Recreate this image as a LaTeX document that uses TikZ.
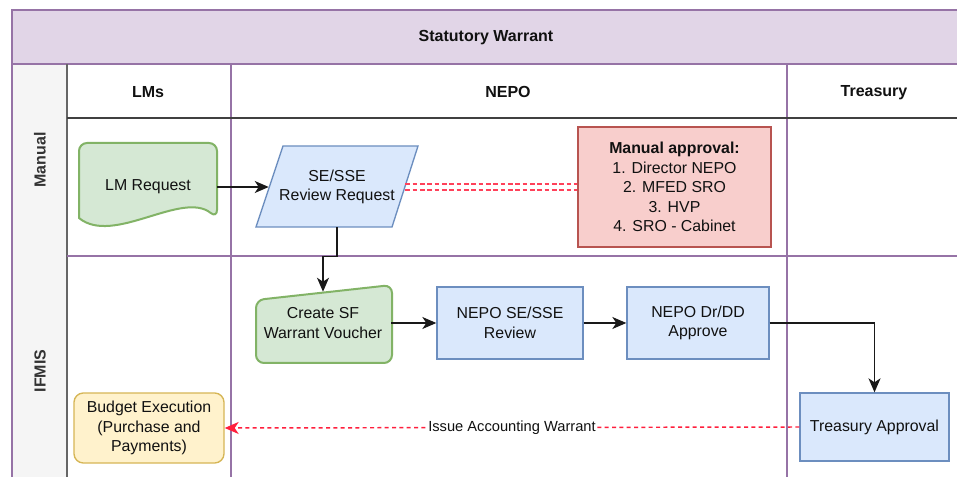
\documentclass[tikz,border=0pt]{standalone}
\usepackage{fontspec}
\setmainfont{Liberation Sans}
\usetikzlibrary{arrows.meta,calc}
\definecolor{hdrfill}{HTML}{E1D5E7}
\definecolor{hdrline}{HTML}{9673A6}
\definecolor{lanefill}{HTML}{F5F5F5}
\definecolor{laneedge}{HTML}{666666}
\definecolor{greenfill}{HTML}{D5E8D4}
\definecolor{greenline}{HTML}{82B366}
\definecolor{bluefill}{HTML}{DAE8FC}
\definecolor{blueline}{HTML}{6C8EBF}
\definecolor{redfill}{HTML}{F8CECC}
\definecolor{redline}{HTML}{B85450}
\definecolor{yelfill}{HTML}{FFF2CC}
\definecolor{yelline}{HTML}{D6B656}
\definecolor{dashred}{HTML}{FF1F3D}
\definecolor{txt}{HTML}{111111}
\begin{document}
\begin{tikzpicture}[x=0.75pt,y=-0.75pt,
  every node/.style={font=\fontsize{11.9}{14.6}\selectfont, text=txt, align=center},
  hdrtext/.style={font=\fontsize{12}{14.6}\selectfont\bfseries},
  lanetext/.style={font=\fontsize{12}{14.6}\selectfont\bfseries, text=black!80, rotate=90},
  bluebox/.style={draw=blueline, fill=bluefill, line width=1pt, inner sep=0pt},
  txtonly/.style={draw=none, inner sep=0pt},
  arr/.style={draw=black!90, line width=1.1pt, -{Stealth[length=10.5pt,width=9pt,inset=3pt]}},
  redarr/.style={draw=dashred, line width=1.1pt, dash pattern=on 3pt off 2.5pt, -{Stealth[length=10.5pt,width=9pt,inset=3pt]}},
  dbl/.style={draw=dashred!85, line width=1.5pt, dash pattern=on 3.5pt off 2pt}
]
\clip (0,0) rectangle (957,477);
\fill[white] (0,0) rectangle (957,477);

% ---- pool / lanes ----
\fill[lanefill] (12,64) rectangle (67,500);
\filldraw[fill=hdrfill, draw=hdrline, line width=1.1pt] (12,10) rectangle (970,64);
\draw[hdrline, line width=0.9pt] (12,64) -- (12,500);
\draw[laneedge, line width=0.8pt] (67,64) -- (67,500);
\draw[hdrline, line width=0.9pt] (231,64) -- (231,500);
\draw[hdrline, line width=0.9pt] (787,64) -- (787,500);
\draw[black!75, line width=1.3pt] (67,118) -- (970,118);
\draw[hdrline, line width=0.9pt] (67,256) -- (970,256);

\node[hdrtext] (title) at (486,38) {Statutory Warrant};
\node[hdrtext] (colLM) at (148,92) {LMs};
\node[hdrtext] (colNEPO) at (508,92) {NEPO};
\node[hdrtext, anchor=base] (colTR) at (874,97) {Treasury};
\node[lanetext] (laneManual) at (40,160) {Manual};
\node[lanetext] (laneIFMIS) at (40,371) {IFMIS};

% ---- LM Request (document shape) ----
\filldraw[fill=greenfill, draw=greenline, line width=1.5pt, rounded corners=6pt]
  (79,218) -- (79,143) -- (217,143) -- (217,218) [sharp corners]
  .. controls (182,190) and (113,246) .. cycle;
\node[txtonly, minimum width=103.5pt, minimum height=40pt] (lm) at (148,187) {LM Request};

% ---- SE/SSE Review Request (parallelogram) ----
\filldraw[fill=bluefill, draw=blueline, line width=1pt]
  (256,227) -- (283,146) -- (418,146) -- (392,227) -- cycle;
\node[txtonly, minimum width=102pt, minimum height=60pt] (se) at (337,187) {SE/SSE\\Review Request};

% ---- Manual approval ----
\node[draw=redline, fill=redfill, line width=1pt, inner sep=0pt,
      minimum width=144.75pt, minimum height=90pt] (ma) at (674.5,187)
  {\textbf{Manual approval:}\\1. Director NEPO\\2. MFED SRO\\3. HVP\\4. SRO - Cabinet};

% ---- Create SF Warrant Voucher (manual input) ----
\filldraw[fill=greenfill, draw=greenline, line width=1.5pt, rounded corners=6pt]
  (256,363) -- (256,300) -- (392,285) -- (392,363) -- cycle;
\node[txtonly, minimum width=102pt, minimum height=46.5pt] (csf) at (323,323) {Create SF\\Warrant Voucher};

% ---- IFMIS boxes ----
\node[bluebox, minimum width=109.5pt, minimum height=54pt] (nse) at (510,323) {NEPO SE/SSE\\Review};
\node[bluebox, minimum width=106.5pt, minimum height=54pt] (ndr) at (698,323) {NEPO Dr/DD\\Approve};
\node[bluebox, minimum width=111.75pt, minimum height=51pt] (tr) at (874.5,427) {Treasury Approval};
\node[draw=yelline, fill=yelfill, line width=1pt, rounded corners=7pt, inner sep=0pt,
      minimum width=112.5pt, minimum height=52.5pt] (be) at (149,428)
  {Budget Execution\\(Purchase and\\Payments)};

% ---- connectors ----
\draw[arr] (lm.east) -- (se.west);
\draw[dbl] ($(se.east)+(0,-2.6)$) -- ($(ma.west)+(0,-2.6)$);
\draw[dbl] ($(se.east)+(0,2.6)$) -- ($(ma.west)+(0,2.6)$);
\draw[arr] (se.south) -- ++(0,29) -| (csf.north);
\draw[arr] (csf.east) -- (nse.west);
\draw[arr] (nse.east) -- (ndr.west);
\draw[arr] (ndr.east) -| (tr.north);
\draw[redarr] (tr.west) -- node[fill=white, inner sep=1pt, font=\fontsize{11}{13}\selectfont] (lbl) {Issue Accounting Warrant} (be.east);
\end{tikzpicture}
\end{document}
